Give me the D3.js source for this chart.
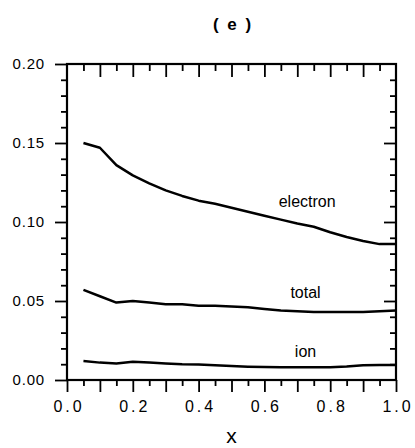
<!DOCTYPE html>
<html>
<head>
<meta charset="utf-8">
<script src="https://cdn.jsdelivr.net/npm/d3@7"></script>
<style>
  body { margin: 0; background: #fff; }
  svg { font-family: "Liberation Sans", Arial, Helvetica, sans-serif; }
</style>
</head>
<body>
<div class="graph-container"></div>
<script>
// data
var xs = [0.05, 0.10, 0.15, 0.20, 0.25, 0.30, 0.35, 0.40, 0.45, 0.50,
          0.55, 0.60, 0.65, 0.70, 0.75, 0.80, 0.85, 0.90, 0.95, 1.00];
var electron = [0.150, 0.147, 0.136, 0.1295, 0.1245, 0.120, 0.1165, 0.1135, 0.1115, 0.109,
                0.1065, 0.104, 0.1015, 0.099, 0.097, 0.0935, 0.0905, 0.088, 0.086, 0.086];
var total = [0.057, 0.053, 0.049, 0.050, 0.049, 0.048, 0.048, 0.047, 0.047, 0.0465,
             0.046, 0.045, 0.044, 0.0435, 0.043, 0.043, 0.043, 0.043, 0.0435, 0.044];
var ion = [0.012, 0.011, 0.0105, 0.0115, 0.011, 0.0105, 0.010, 0.0098, 0.0093, 0.0088,
           0.0084, 0.0082, 0.008, 0.008, 0.008, 0.008, 0.0085, 0.0093, 0.0095, 0.0095];
var xLabelTicks = [0, 0.2, 0.4, 0.6, 0.8, 1.0];
var xMajorTicks = [0, 0.1, 0.2, 0.3, 0.4, 0.5, 0.6, 0.7, 0.8, 0.9, 1.0];
var xMinorTicks = [0.05, 0.15, 0.25, 0.35, 0.45, 0.55, 0.65, 0.75, 0.85, 0.95];
var yMajorTicks = [0, 0.05, 0.10, 0.15, 0.20];
var yMinorTicks = [0.01, 0.02, 0.03, 0.04, 0.06, 0.07, 0.08, 0.09, 0.11, 0.12, 0.13, 0.14, 0.16, 0.17, 0.18, 0.19];

var W = 415, H = 448;
var margin = { top: 64, left: 67, right: 19, bottom: 68 };

var svg = d3.select(".graph-container").append("svg")
    .attr("width", W)
    .attr("height", H);

var x = d3.scaleLinear().domain([0, 1]).range([margin.left, W - margin.right]);
var y = d3.scaleLinear().domain([0, 0.2]).range([H - margin.bottom, margin.top]);

function styleAxis(g) {
    g.select(".domain").remove();
    g.selectAll("line").attr("stroke", "#000").attr("stroke-width", 1.8);
    g.selectAll("text").attr("fill", "#000");
}

// bottom axis
svg.append("g")
    .attr("transform", "translate(0," + y(0) + ")")
    .call(d3.axisBottom(x).tickValues(xMinorTicks).tickSize(6).tickFormat(""))
    .call(styleAxis);
svg.append("g")
    .attr("transform", "translate(0," + y(0) + ")")
    .call(d3.axisBottom(x).tickValues(xMajorTicks).tickSize(12)
        .tickFormat(d => xLabelTicks.some(v => Math.abs(v - d) < 1e-9) ? d3.format(".1f")(d) : ""))
    .call(styleAxis)
    .call(g => g.selectAll("text")
        .attr("font-size", 16)
        .attr("letter-spacing", "3px")
        .attr("dx", "1.5px")
        .attr("y", 21));

// top axis
svg.append("g")
    .attr("transform", "translate(0," + y(0.2) + ")")
    .call(d3.axisBottom(x).tickValues(xMinorTicks).tickSize(7).tickFormat(""))
    .call(styleAxis);
svg.append("g")
    .attr("transform", "translate(0," + y(0.2) + ")")
    .call(d3.axisBottom(x).tickValues(xMajorTicks.slice(1, -1)).tickSize(13).tickFormat(""))
    .call(styleAxis);

// left axis
svg.append("g")
    .attr("transform", "translate(" + x(0) + ",0)")
    .call(d3.axisLeft(y).tickValues(yMinorTicks).tickSize(6).tickFormat(""))
    .call(styleAxis);
svg.append("g")
    .attr("transform", "translate(" + x(0) + ",0)")
    .call(d3.axisLeft(y).tickValues(yMajorTicks).tickSize(12).tickPadding(10).tickFormat(d3.format(".2f")))
    .call(styleAxis)
    .call(g => g.selectAll("text").attr("font-size", 15).attr("letter-spacing", "0.8px"));

// right axis
svg.append("g")
    .attr("transform", "translate(" + x(1) + ",0)")
    .call(d3.axisRight(y).tickValues(yMinorTicks).tickSize(-6).tickFormat(""))
    .call(styleAxis);
svg.append("g")
    .attr("transform", "translate(" + x(1) + ",0)")
    .call(d3.axisRight(y).tickValues(yMajorTicks.slice(1, -1)).tickSize(-12).tickFormat(""))
    .call(styleAxis);

// frame
svg.append("rect")
    .attr("x", x(0))
    .attr("y", y(0.2))
    .attr("width", x(1) - x(0))
    .attr("height", y(0) - y(0.2))
    .attr("fill", "none")
    .attr("stroke", "#000")
    .attr("stroke-width", 2.2);

// curves
var line = d3.line()
    .x((d, i) => x(xs[i]))
    .y(d => y(d));

[electron, total, ion].forEach(series => {
    svg.append("path")
        .datum(series)
        .attr("d", line)
        .attr("fill", "none")
        .attr("stroke", "#000")
        .attr("stroke-width", 2.5)
        .attr("stroke-linejoin", "round");
});

// curve labels
var labels = [
    { text: "electron", x: 0.73, y: 0.1095 },
    { text: "total", x: 0.725, y: 0.052 },
    { text: "ion", x: 0.725, y: 0.0145 }
];
svg.append("g")
    .selectAll("text")
    .data(labels)
    .enter()
    .append("text")
    .attr("x", d => x(d.x))
    .attr("y", d => y(d.y))
    .attr("text-anchor", "middle")
    .attr("font-size", 16)
    .attr("fill", "#000")
    .text(d => d.text);

// title
svg.append("text")
    .attr("x", 233)
    .attr("y", 30)
    .attr("text-anchor", "middle")
    .attr("font-size", 17)
    .attr("font-weight", "bold")
    .attr("letter-spacing", "2px")
    .attr("xml:space", "preserve")
    .text("( e )");

// x axis title
svg.append("text")
    .attr("x", (x(0) + x(1)) / 2)
    .attr("y", 443)
    .attr("text-anchor", "middle")
    .attr("font-size", 21)
    .text("x");
</script>
</body>
</html>
